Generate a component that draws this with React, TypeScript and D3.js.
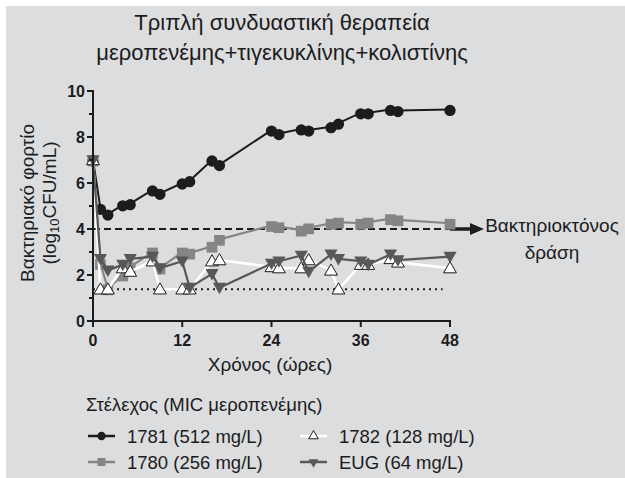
import React from "react";
import * as d3 from "d3";

// sampling times (hours)
const times = [0, 1, 2, 4, 5, 8, 9, 12, 13, 16, 17, 24, 25, 28, 29, 32, 33, 36, 37, 40, 41, 48];

// log10 CFU/mL per strain
const s1781 = [7.0, 4.9, 4.65, 5.05, 5.1, 5.7, 5.55, 6.0, 6.1, 7.0, 6.8, 8.3, 8.15, 8.35, 8.3, 8.45, 8.6, 9.05, 9.05, 9.2, 9.15, 9.2];
const s1780 = [7.0, 2.5, 1.4, 2.0, 2.35, 3.0, 2.3, 3.0, 2.95, 3.25, 3.55, 4.15, 4.1, 3.95, 4.05, 4.25, 4.3, 4.25, 4.3, 4.45, 4.4, 4.25];
const s1782 = [7.0, 1.38, 1.38, 2.3, 2.15, 2.6, 1.38, 1.38, 1.38, 2.6, 2.65, 2.35, 2.3, 2.3, 2.65, 2.2, 1.38, 2.45, 2.45, 2.7, 2.55, 2.3];
const sEUG = [7.0, 2.7, 2.2, 2.45, 2.7, 2.8, 2.3, 2.6, 1.45, 2.05, 1.45, 2.5, 2.6, 2.85, 2.15, 2.9, 2.7, 2.6, 2.45, 2.9, 2.65, 2.8];

const xTicks = [0, 12, 24, 36, 48];
const yTicks = [0, 2, 4, 6, 8, 10];
const yMinor = [1, 3, 5, 7, 9];
const bactericidal = 4;
const detectionLimit = 1.38;

const legendTitle = "Στέλεχος (MIC μεροπενέμης)";

const font = "Liberation Sans, Arial, sans-serif";
const ink = "#1c1c1c";

type Series = {
  name: string;
  values: number[];
  stroke: string;
  width: number;
  symbol: d3.SymbolType;
  size: number;
  fill: string;
  outline: string;
  rotate: number;
};

const series: Series[] = [
  { name: "1781 (512 mg/L)", values: s1781, stroke: ink, width: 2, symbol: d3.symbolCircle, size: 100, fill: ink, outline: "none", rotate: 0 },
  { name: "1780 (256 mg/L)", values: s1780, stroke: "#858585", width: 2.2, symbol: d3.symbolSquare, size: 115, fill: "#858585", outline: "none", rotate: 0 },
  { name: "1782 (128 mg/L)", values: s1782, stroke: "#ffffff", width: 2.6, symbol: d3.symbolTriangle, size: 72, fill: "#ffffff", outline: ink, rotate: 0 },
  { name: "EUG (64 mg/L)", values: sEUG, stroke: "#585858", width: 2.2, symbol: d3.symbolTriangle, size: 75, fill: "#585858", outline: "none", rotate: 180 },
];

// legend reading order: row 1 = 1781, 1782; row 2 = 1780, EUG
const legendOrder = [0, 2, 1, 3];

export default function App() {
  const x = d3.scaleLinear().domain([0, 48]).range([93, 450]);
  const y = d3.scaleLinear().domain([0, 10]).range([321, 91]);

  const line = d3
    .line<number>()
    .x((_, i) => x(times[i]))
    .y((d) => y(d));

  return (
    <svg width={625} height={478} style={{ position: "absolute", left: 0, top: 0 }} fontFamily={font}>
      <rect x={0} y={0} width={625} height={478} fill="#ffffff" />
      <rect x={6} y={6} width={619} height={472} fill="#dcdddf" />

      {/* title */}
      <text x={282} y={22} textAnchor="middle" dominantBaseline="central" fontSize={22} fill={ink}>
        Τριπλή συνδυαστική θεραπεία
      </text>
      <text x={282} y={52} textAnchor="middle" dominantBaseline="central" fontSize={22} fill={ink}>
        μεροπενέμης+τιγεκυκλίνης+κολιστίνης
      </text>

      {/* y label */}
      <g transform="translate(27,203) rotate(-90)">
        <text textAnchor="middle" dominantBaseline="central" fontSize={19} fill={ink}>
          Βακτηριακό φορτίο
        </text>
      </g>
      <g transform="translate(49,203) rotate(-90)">
        <text textAnchor="middle" dominantBaseline="central" fontSize={19} fill={ink}>
          (log<tspan fontSize={13} dy={5}>10</tspan>
          <tspan dy={-5}>CFU/mL)</tspan>
        </text>
      </g>

      {/* reference lines */}
      <line x1={x(0)} x2={x(48)} y1={y(bactericidal)} y2={y(bactericidal)} stroke={ink} strokeWidth={2} strokeDasharray="7,4" />
      <line x1={x(48)} x2={472} y1={y(bactericidal)} y2={y(bactericidal)} stroke={ink} strokeWidth={3.5} />
      <path d={`M470,${y(bactericidal) - 6}L484,${y(bactericidal)}L470,${y(bactericidal) + 6}Z`} fill={ink} />
      <line x1={x(0)} x2={x(47)} y1={y(detectionLimit)} y2={y(detectionLimit)} stroke={ink} strokeWidth={2} strokeDasharray="2,4" />

      <text x={552} y={225} textAnchor="middle" dominantBaseline="central" fontSize={19} fill={ink}>
        Βακτηριοκτόνος
      </text>
      <text x={552} y={252} textAnchor="middle" dominantBaseline="central" fontSize={19} fill={ink}>
        δράση
      </text>

      {/* series */}
      {series.map((s) => (
        <g key={s.name}>
          <path d={line(s.values) || ""} fill="none" stroke={s.stroke} strokeWidth={s.width} strokeLinejoin="round" />
          {s.values.map((v, i) => (
            <path
              key={i}
              d={d3.symbol().type(s.symbol).size(s.size)() || ""}
              transform={`translate(${x(times[i])},${y(v) + (s.rotate ? -1 : 1)}) rotate(${s.rotate})`}
              fill={s.fill}
              stroke={s.outline}
              strokeWidth={1}
            />
          ))}
        </g>
      ))}

      {/* axes */}
      <line x1={x(0)} x2={x(0)} y1={y(10) - 1} y2={y(0) + 1} stroke={ink} strokeWidth={2} />
      <line x1={x(0) - 1} x2={x(48) + 1} y1={y(0)} y2={y(0)} stroke={ink} strokeWidth={2} />
      {yTicks.map((t) => (
        <g key={t}>
          <line x1={x(0) - 6} x2={x(0)} y1={y(t)} y2={y(t)} stroke={ink} strokeWidth={2} />
          <text x={85} y={y(t)} textAnchor="end" dominantBaseline="central" fontSize={16} fontWeight="bold" fill={ink}>
            {t}
          </text>
        </g>
      ))}
      {yMinor.map((t) => (
        <line key={t} x1={x(0) - 4} x2={x(0)} y1={y(t)} y2={y(t)} stroke={ink} strokeWidth={2} />
      ))}
      {xTicks.map((t) => (
        <g key={t}>
          <line x1={x(t)} x2={x(t)} y1={y(0)} y2={y(0) + 6} stroke={ink} strokeWidth={2} />
          <text x={x(t)} y={y(0) + 19} textAnchor="middle" dominantBaseline="central" fontSize={16} fontWeight="bold" fill={ink}>
            {t}
          </text>
        </g>
      ))}
      <text x={270} y={364} textAnchor="middle" dominantBaseline="central" fontSize={19} fill={ink}>
        Χρόνος (ώρες)
      </text>

      {/* legend */}
      <text x={86} y={404} dominantBaseline="central" fontSize={18.5} fill={ink}>
        {legendTitle}
      </text>
      {legendOrder.map((si, k) => {
        const s = series[si];
        const lx = k % 2 === 0 ? 88 : 300;
        const ly = k < 2 ? 436 : 462;
        return (
          <g key={s.name}>
            <line x1={lx} x2={lx + 27} y1={ly} y2={ly} stroke={s.stroke} strokeWidth={2.5} />
            <path
              d={d3.symbol().type(s.symbol).size(s.size * 0.55)() || ""}
              transform={`translate(${lx + 13.5},${ly}) rotate(${s.rotate})`}
              fill={s.fill}
              stroke={s.outline}
              strokeWidth={1}
            />
            <text x={lx + 39} y={ly} dominantBaseline="central" fontSize={18.5} fill={ink}>
              {s.name}
            </text>
          </g>
        );
      })}
    </svg>
  );
}
